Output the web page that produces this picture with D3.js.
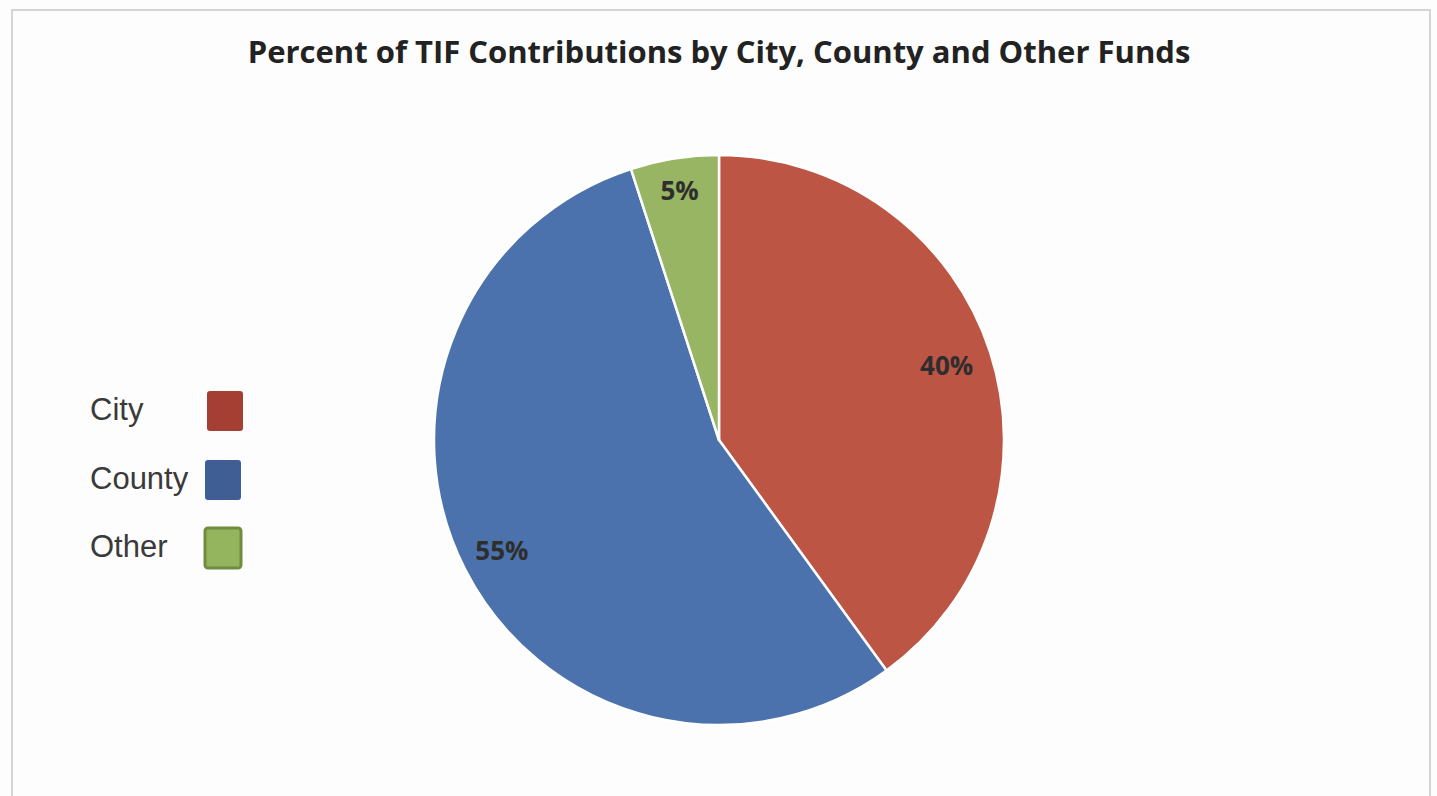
<!DOCTYPE html>
<html>
<head>
<meta charset="utf-8">
<script src="https://cdn.jsdelivr.net/npm/d3@7"></script>
<style>
  html, body { margin: 0; padding: 0; background: #ffffff; }
  svg { display: block; }
</style>
</head>
<body>
<svg id="chart" width="1437" height="796"></svg>
<script>
// Share of TIF contributions by source
const categories = ["City", "County", "Other"];
const values = [40, 55, 5];
const colors = ["#bd5544", "#4c72ad", "#97b562"];
const swatchColors = ["#a53f33", "#3f5e93", "#95b45e"];
const title = "Percent of TIF Contributions by City, County and Other Funds";

const svg = d3.select("#chart");
const W = 1437, H = 796;

svg.append("rect").attr("width", W).attr("height", H).attr("fill", "#fdfdfd");

// chart frame
svg.append("path")
  .attr("d", "M12,796 L12,10 L1430,10 L1430,796")
  .attr("fill", "none").attr("stroke", "#c8c8c8").attr("stroke-width", 1.5);

svg.append("text")
  .attr("x", 719).attr("y", 63)
  .attr("text-anchor", "middle")
  .attr("font-family", "'Open Sans', 'Noto Sans', sans-serif")
  .attr("font-weight", "bold")
  .attr("font-size", 31)
  .attr("fill", "#222")
  .text(title);

const cx = 719, cy = 440, r = 285;
const data = categories.map((c, i) => ({ name: c, value: values[i], color: colors[i] }));
const pie = d3.pie().value(d => d.value).sort(null);
const arc = d3.arc().innerRadius(0).outerRadius(r);
const arcs = pie(data);

const g = svg.append("g").attr("transform", `translate(${cx},${cy})`);
g.selectAll("path.slice")
  .data(arcs)
  .enter().append("path")
  .attr("class", "slice")
  .attr("d", arc)
  .attr("fill", d => d.data.color)
  .attr("stroke", "#ffffff")
  .attr("stroke-width", 2.5)
  .attr("stroke-linejoin", "round");

// value labels placed toward the rim
const labelRadius = [0.84, 0.855, 0.885];
g.selectAll("text.val")
  .data(arcs)
  .enter().append("text")
  .attr("class", "val")
  .attr("transform", (d, i) => {
    const a = (d.startAngle + d.endAngle) / 2;
    const lr = r * labelRadius[i];
    return `translate(${Math.sin(a) * lr},${-Math.cos(a) * lr})`;
  })
  .attr("text-anchor", "middle")
  .attr("dy", "0.35em")
  .attr("font-family", "'Open Sans', 'Noto Sans', sans-serif")
  .attr("font-weight", "bold")
  .attr("font-size", 26)
  .attr("fill", "#2e2e2e")
  .text(d => d.data.value + "%");

// legend
const legend = svg.append("g").attr("transform", "translate(90,409)");
const rowY = [0, 69, 137];
const row = legend.selectAll("g.item")
  .data(data)
  .enter().append("g")
  .attr("class", "item")
  .attr("transform", (d, i) => `translate(0,${rowY[i]})`);
row.append("text")
  .attr("x", 0).attr("y", 0)
  .attr("dy", "0.35em")
  .attr("font-family", "'Liberation Sans', Arial, sans-serif")
  .attr("font-size", 31)
  .attr("fill", "#3a3a3a")
  .text(d => d.name);
row.append("rect")
  .attr("x", (d, i) => i === 0 ? 117 : 115)
  .attr("y", -18)
  .attr("width", 36).attr("height", 40)
  .attr("rx", 3)
  .attr("fill", (d, i) => swatchColors[i])
  .attr("stroke", (d, i) => i === 2 ? "#6f8c3f" : "none")
  .attr("stroke-width", 3);
</script>
</body>
</html>
